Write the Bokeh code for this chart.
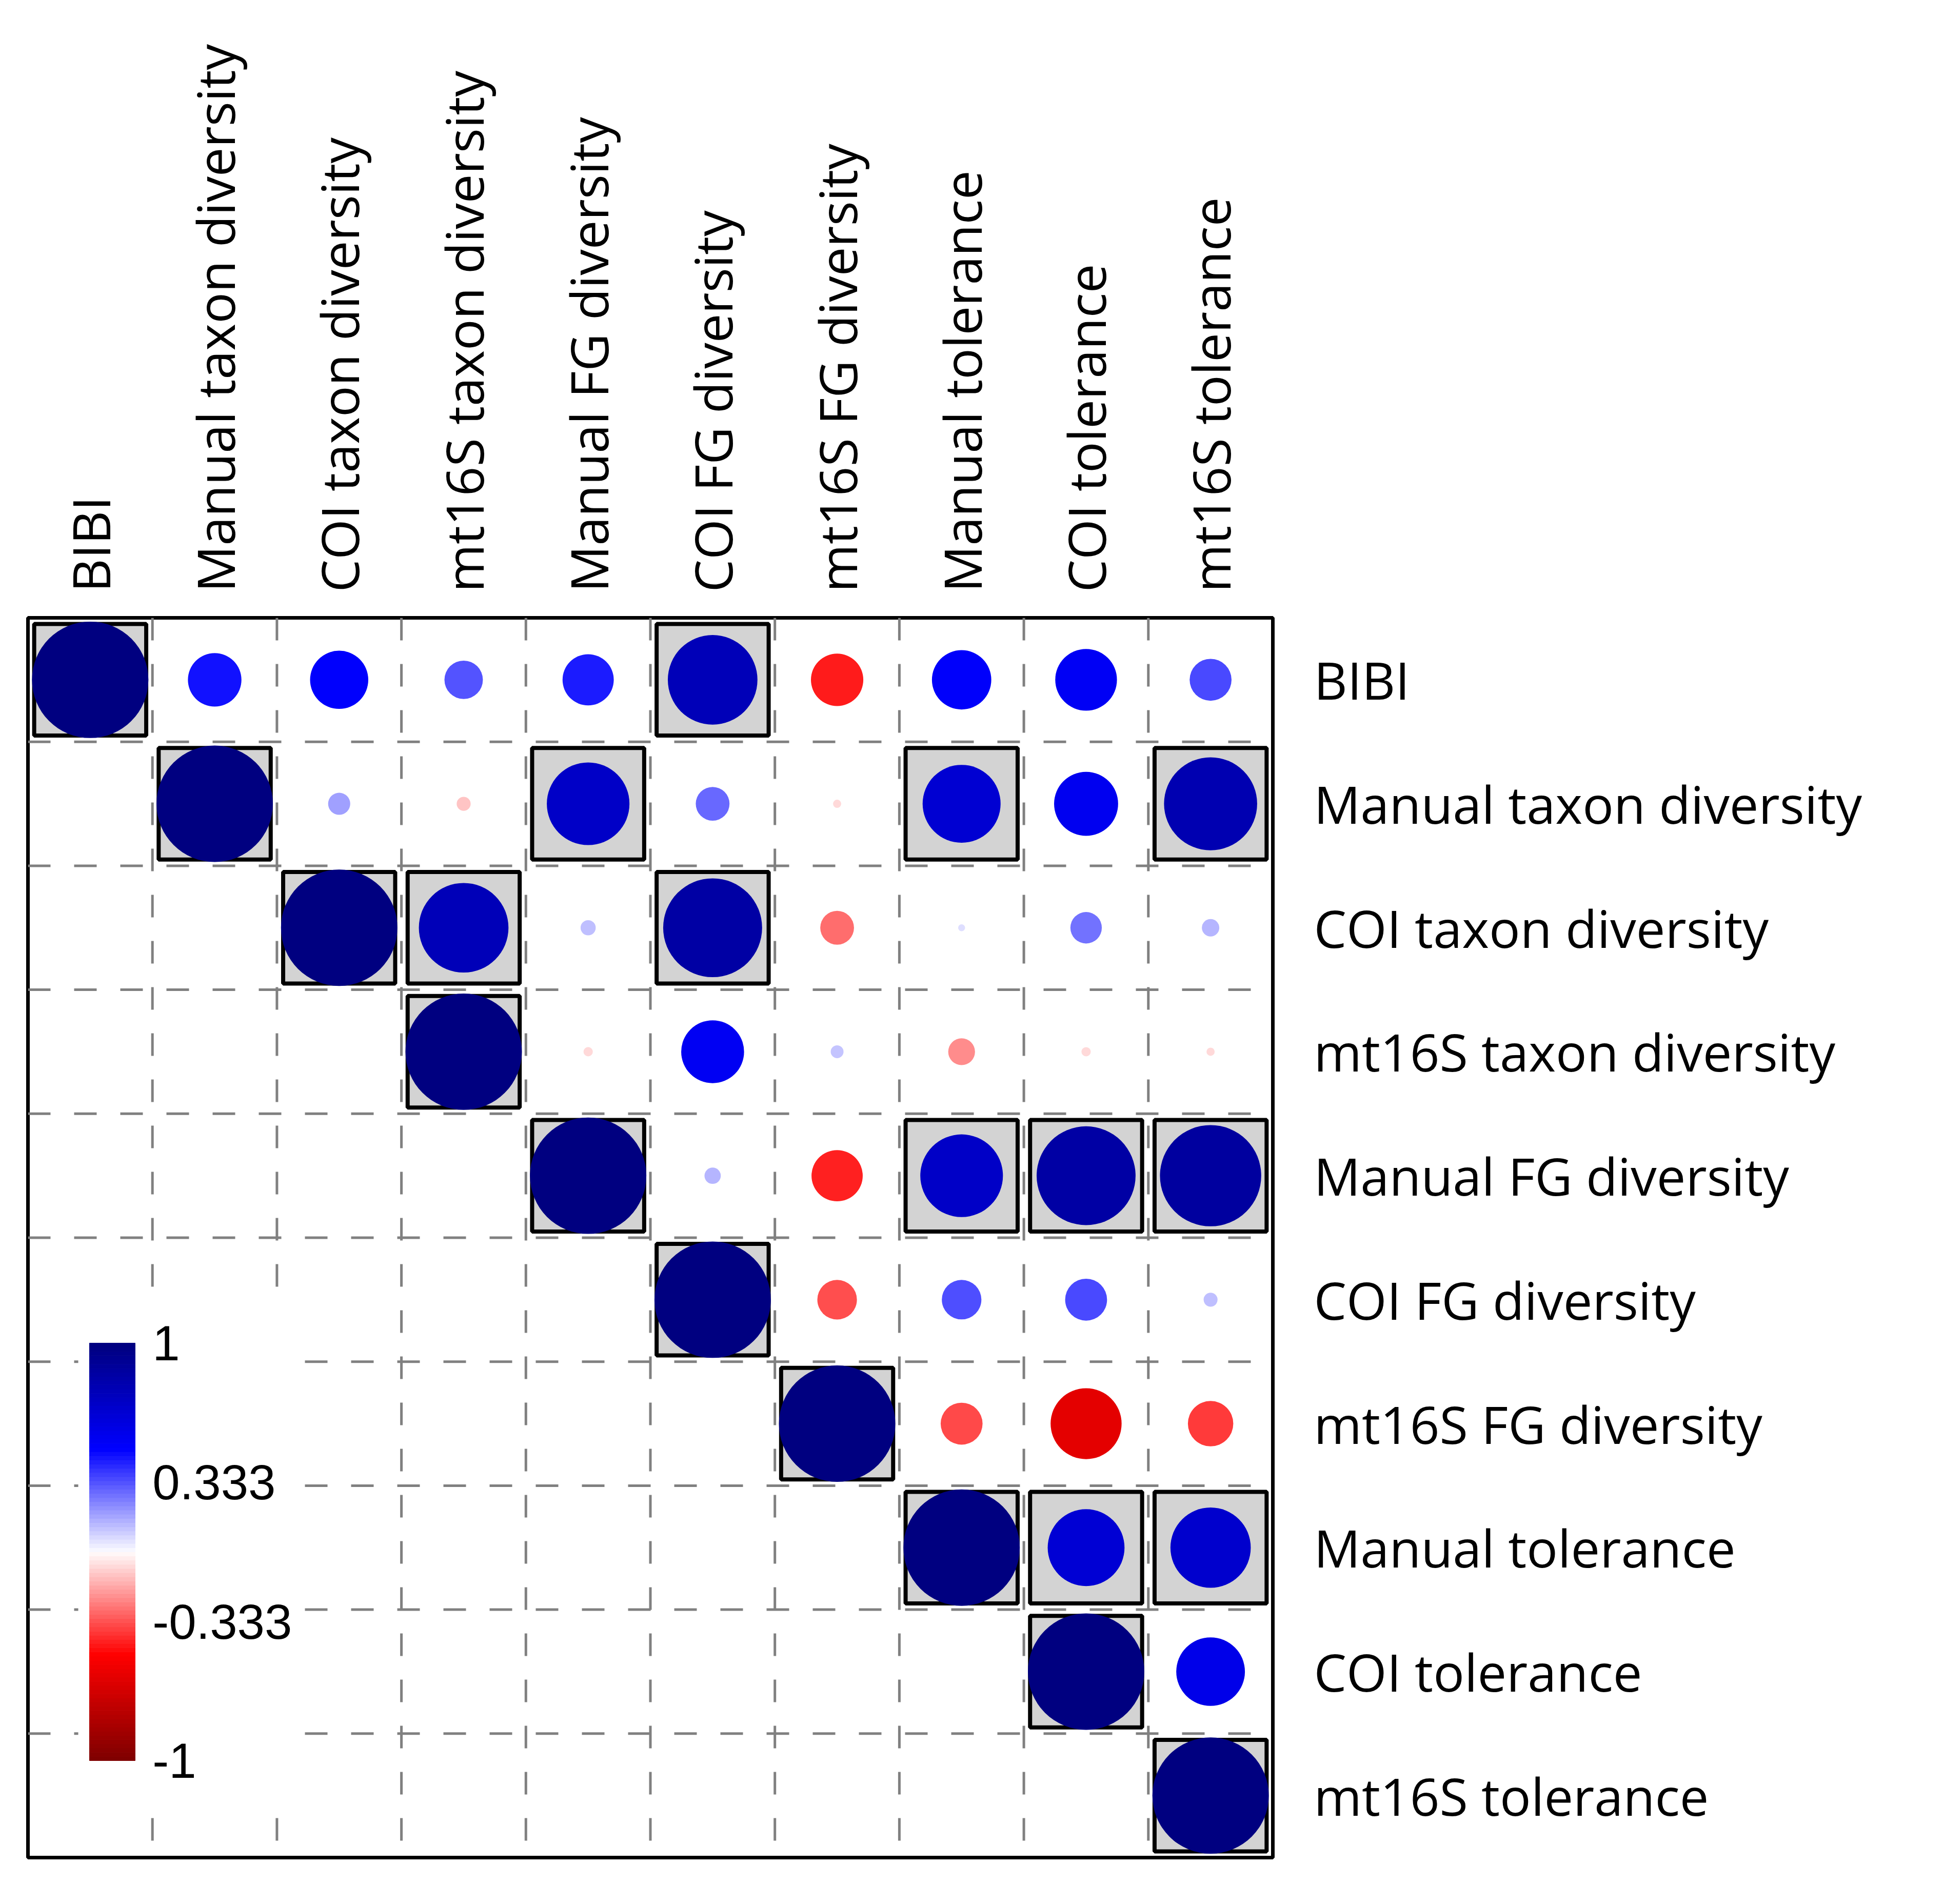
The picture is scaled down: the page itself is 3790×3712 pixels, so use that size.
import numpy as np
import pandas as pd
from bokeh.plotting import figure
from bokeh.models import FactorRange, CategoricalAxis, ColumnDataSource, LinearColorMapper
from bokeh.transform import transform
from bokeh.core.properties import value
from bokeh.embed import file_html
from bokeh.resources import INLINE

variables = ["BIBI", "Manual taxon diversity", "COI taxon diversity", "mt16S taxon diversity",
             "Manual FG diversity", "COI FG diversity", "mt16S FG diversity",
             "Manual tolerance", "COI tolerance", "mt16S tolerance"]

# upper triangle of the correlation matrix, each row starting at the diagonal
corr_bibi = [1.00, 0.46, 0.50, 0.33, 0.44, 0.77, -0.45, 0.51, 0.53, 0.36]
corr_man_taxon = [1.00, 0.19, -0.12, 0.71, 0.29, -0.07, 0.67, 0.55, 0.80]
corr_coi_taxon = [1.00, 0.77, 0.13, 0.85, -0.29, 0.06, 0.27, 0.15]
corr_mt_taxon = [1.00, -0.08, 0.54, 0.11, -0.23, -0.08, -0.07]
corr_man_fg = [1.00, 0.14, -0.44, 0.71, 0.85, 0.87]
corr_coi_fg = [1.00, -0.34, 0.34, 0.36, 0.12]
corr_mt_fg = [1.00, -0.36, -0.61, -0.39]
corr_man_tol = [1.00, 0.66, 0.69]
corr_coi_tol = [1.00, 0.59]
corr_mt_tol = [1.00]
corr_rows = [corr_bibi, corr_man_taxon, corr_coi_taxon, corr_mt_taxon, corr_man_fg,
             corr_coi_fg, corr_mt_fg, corr_man_tol, corr_coi_tol, corr_mt_tol]

# significant cells (column index) per row
sig_cols = [[0, 5], [1, 4, 7, 9], [2, 3, 5], [3], [4, 7, 8, 9], [5], [6], [7, 8, 9], [8], [9]]

legend_ticks = [1, 0.333, -0.333, -1]
legend_labels = ["1", "0.333", "-0.333", "-1"]

anchor_colors = ["#800000", "#FF0000", "#FFFFFF", "#0000FF", "#000080"]


def hex2rgb(h):
    return np.array([int(h[i:i + 2], 16) for i in (1, 3, 5)], dtype=float)


anch = np.array([hex2rgb(c) for c in anchor_colors])
anch_pos = np.linspace(0, 1, len(anchor_colors))
palette = []
for t in np.linspace(0, 1, 200):
    rgb = [np.interp(t, anch_pos, anch[:, k]) for k in range(3)]
    palette.append("#%02x%02x%02x" % tuple(int(round(c)) for c in rgb))
mapper = LinearColorMapper(palette=palette, low=-1, high=1)

recs = []
for i, row in enumerate(corr_rows):
    for k, v in enumerate(row):
        j = i + k
        recs.append(dict(x=variables[j], y=variables[i], r=v,
                         rad=0.4675 * abs(v), sig=(j in sig_cols[i])))
df = pd.DataFrame(recs)
src = ColumnDataSource(df)
sig_src = ColumnDataSource(df[df.sig])

n = len(variables)
W, H = 3772, 3694
p = figure(width=W, height=H,
           x_range=FactorRange(*variables), y_range=FactorRange(*variables[::-1]),
           x_axis_location=None, y_axis_location=None,
           toolbar_location=None, output_backend="svg",
           min_border_left=54, min_border_right=1291, min_border_top=1204, min_border_bottom=73)
p.xgrid.visible = False
p.ygrid.visible = False
p.background_fill_color = "white"
p.border_fill_color = "white"
p.outline_line_color = "black"
p.outline_line_width = 7

label_font = "Open Sans"
label_size = "101px"
top = CategoricalAxis()
right = CategoricalAxis()
for ax, standoff in ((top, 50), (right, 80)):
    ax.axis_line_color = None
    ax.major_tick_line_color = None
    ax.minor_tick_line_color = None
    ax.major_tick_out = 0
    ax.major_tick_in = 0
    ax.major_label_text_font = label_font
    ax.major_label_text_font_size = label_size
    ax.major_label_text_color = "black"
    ax.major_label_standoff = standoff
top.major_label_orientation = "vertical"
p.add_layout(top, "above")
p.add_layout(right, "right")

# dashed cell separators
bounds = list(range(1, n))
p.segment(x0=bounds, y0=[n] * len(bounds), x1=bounds, y1=[0] * len(bounds),
          line_color="#808080", line_width=5, line_dash="44 46")
p.segment(x0=[0] * len(bounds), y0=bounds, x1=[n] * len(bounds), y1=bounds,
          line_color="#808080", line_width=5, line_dash="44 46")

# legend background
p.quad(left=0.404, right=2.196, bottom=0.327, top=4.547, fill_color="white", line_color=None)

# significance boxes
p.rect(x="x", y="y", width=0.90, height=0.90, fill_color="#D3D3D3",
       line_color="black", line_width=8, source=sig_src)

# circles
p.circle(x="x", y="y", radius="rad", fill_color=transform("r", mapper),
         line_color=None, source=src)

# colour legend
cb_left, cb_right, cb_bottom, cb_top = 0.494, 0.861, 0.782, 4.150
nb = 100
edges = np.linspace(cb_bottom, cb_top, nb + 1)
vals = np.linspace(-1, 1, nb)
cb_src = ColumnDataSource(dict(b=edges[:-1], t=edges[1:], v=vals))
p.quad(left=cb_left, right=cb_right, bottom="b", top="t", fill_color=transform("v", mapper),
       line_color=transform("v", mapper), line_width=1, source=cb_src)
tick_y = [cb_bottom + (tv + 1) / 2 * (cb_top - cb_bottom) for tv in legend_ticks]
p.text(x=[1.0] * len(tick_y), y=tick_y, text=legend_labels,
       text_font=value("Liberation Sans"), text_font_size="96px",
       text_baseline="middle", text_align="left", text_color="black")

open("out.html", "w").write(file_html(p, INLINE))
